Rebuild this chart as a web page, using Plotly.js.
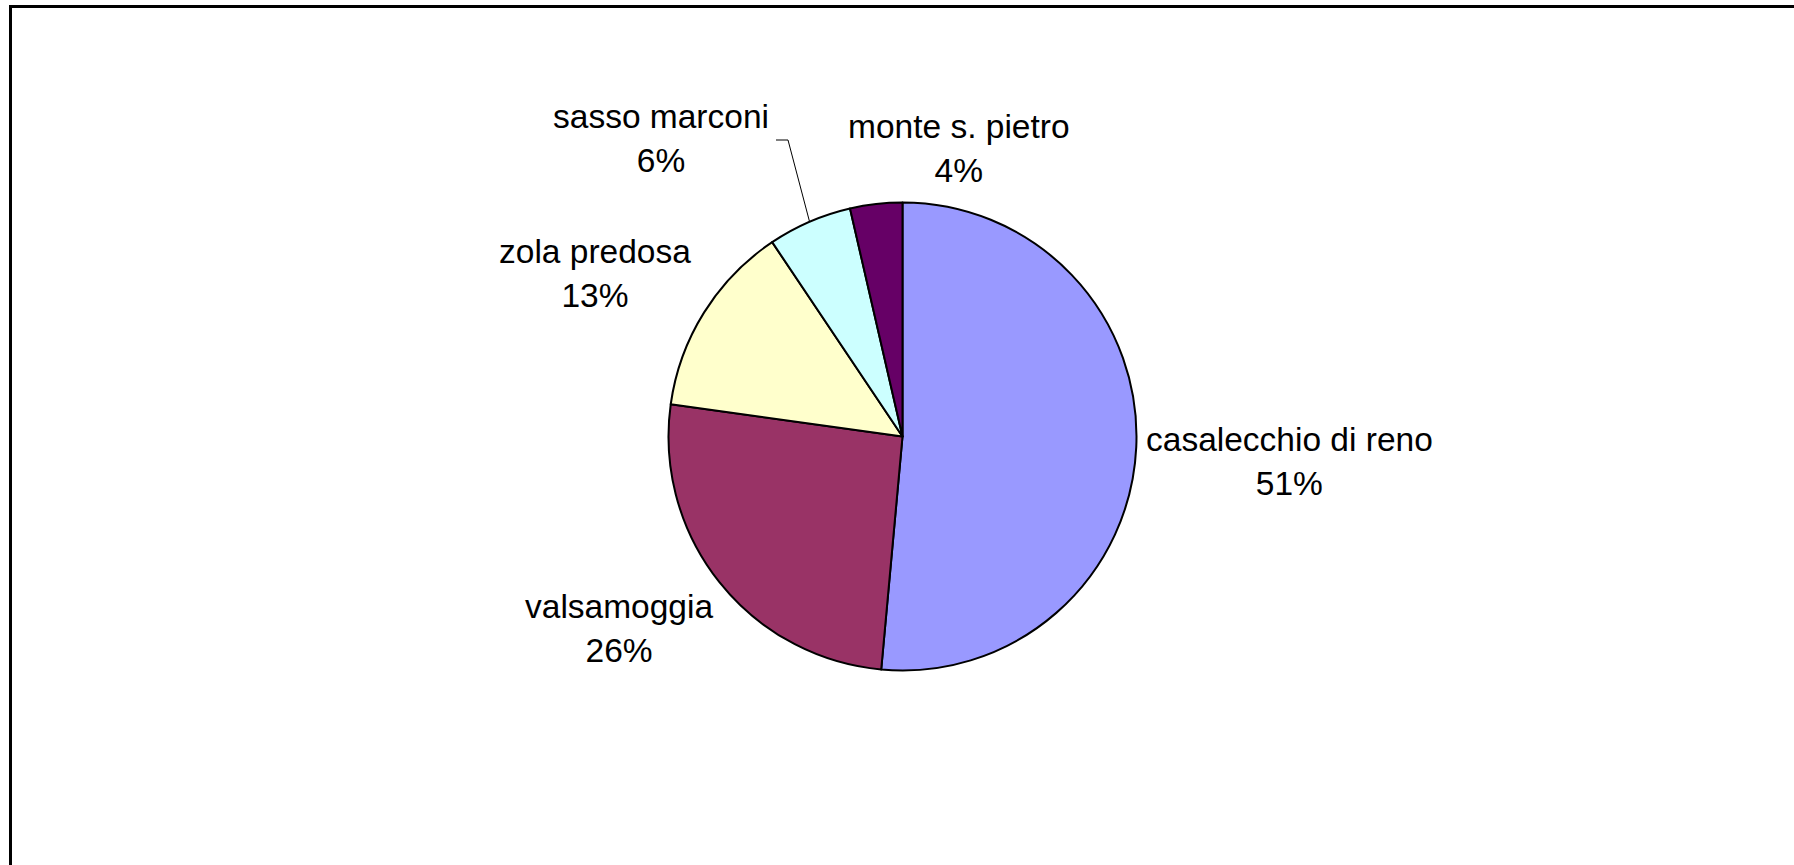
<!DOCTYPE html>
<html>
<head>
<meta charset="utf-8">
<script src="https://cdn.plot.ly/plotly-3.0.1.min.js"></script>
<style>
  html, body { margin: 0; padding: 0; background: #ffffff; }
  #chart { width: 1794px; height: 865px; }
</style>
</head>
<body>
<div id="chart"></div>
<script>
// ---- data ----
const categories = ["casalecchio di reno", "valsamoggia", "zola predosa", "sasso marconi", "monte s. pietro"];
const shares = [51.45, 25.75, 13.4, 5.8, 3.6];
const sliceColors = ["#9999FF", "#993366", "#FFFFCC", "#CCFFFF", "#660066"];

// ---- layout helpers (pixel space) ----
const W = 1794, H = 865;
const cx = 902.5, cy = 436.5, R = 234;
const labelPos = [[1289, 461], [619, 628.5], [595, 273.5], [661, 138.5], [959, 148]];

const total = shares.reduce((a, b) => a + b, 0);
const pctText = shares.map(v => Math.round(v / total * 100) + "%");

// mid angle of each slice (clockwise from 12 o'clock)
let acc = 0;
const midAngles = shares.map(v => { const a0 = acc; acc += v; return ((a0 + acc) / 2) / total * 2 * Math.PI; });

const annotations = categories.map((c, i) => ({
  x: labelPos[i][0], y: labelPos[i][1], xref: "x", yref: "y",
  text: c + "<br>" + pctText[i], showarrow: false,
  xanchor: "center", yanchor: "middle", align: "center",
  font: { family: "Liberation Sans, Arial, sans-serif", size: 33.5, color: "#000000" }
}));

// leader line for the sasso marconi label
const si = 3;
const ex = cx + R * Math.sin(midAngles[si]);
const ey = cy - R * Math.cos(midAngles[si]);

const shapes = [
  { type: "rect", xref: "x", yref: "y", x0: 10.5, y0: 6.5, x1: W + 20, y1: H + 20,
    line: { color: "#000000", width: 3 }, fillcolor: "rgba(0,0,0,0)", layer: "above" },
  { type: "path", xref: "x", yref: "y",
    path: `M 776 140 L 788 140 L ${ex} ${ey}`,
    line: { color: "#000000", width: 1 } }
];

const trace = {
  type: "pie",
  labels: categories,
  values: shares,
  sort: false,
  direction: "clockwise",
  rotation: 0,
  textinfo: "none",
  hoverinfo: "label+percent",
  marker: { colors: sliceColors, line: { color: "#000000", width: 2 } },
  domain: { x: [(cx - R) / W, (cx + R) / W], y: [1 - (cy + R) / H, 1 - (cy - R) / H] },
  showlegend: false
};

const layout = {
  width: W, height: H,
  margin: { l: 0, r: 0, t: 0, b: 0 },
  paper_bgcolor: "#ffffff", plot_bgcolor: "rgba(0,0,0,0)",
  xaxis: { range: [0, W], visible: false, fixedrange: true },
  yaxis: { range: [H, 0], visible: false, fixedrange: true },
  showlegend: false,
  annotations: annotations,
  shapes: shapes
};

Plotly.newPlot("chart", [trace], layout, { staticPlot: true, displayModeBar: false });
</script>
</body>
</html>
